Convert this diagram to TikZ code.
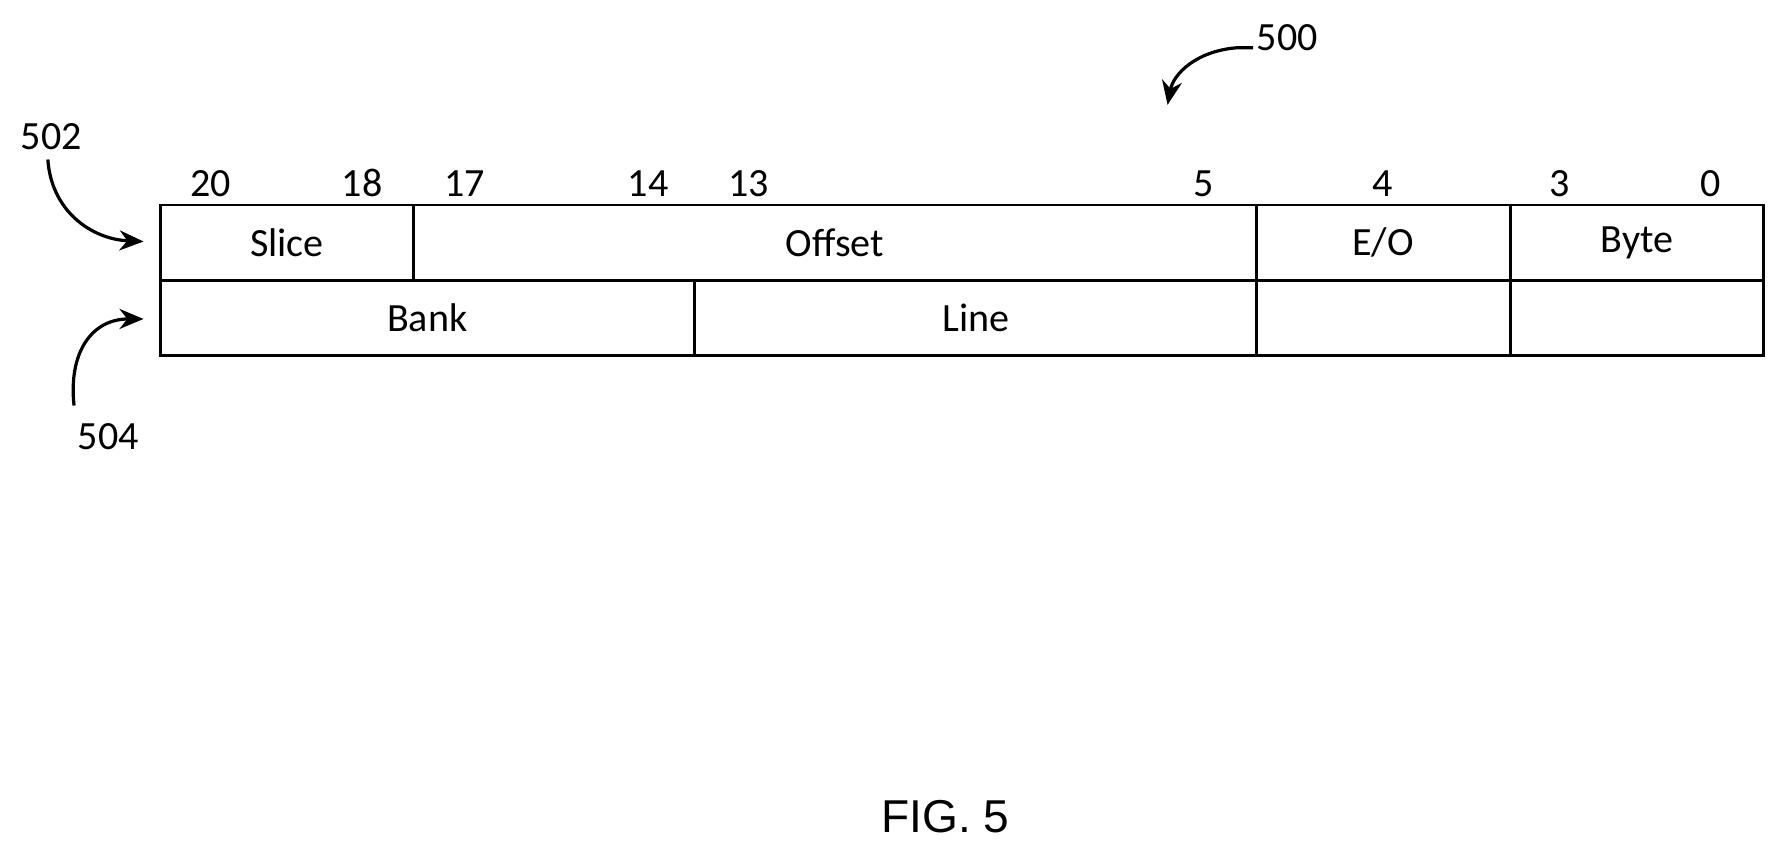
\documentclass[tikz,border=0pt]{standalone}
\usepackage{fontspec}
\setmainfont{Carlito}
\newfontfamily\figfont{Liberation Sans}
\usetikzlibrary{arrows.meta}
\begin{document}
\begin{tikzpicture}[x=0.01cm,y=-0.01cm,line width=0.7pt,
  lbl/.style={font=\fontsize{10}{12}\selectfont,inner sep=0pt},
  cell/.style={draw,line width=0.7pt},
  ref/.style={-{Stealth[length=6pt,width=5pt]},line width=0.8pt}]
\useasboundingbox (0,0) rectangle (1560,745);
% row 502
\draw[cell] (141,180) rectangle (363,246);
\draw[cell] (363,180) rectangle (1103,246);
\draw[cell] (1103,180) rectangle (1326,246);
\draw[cell] (1326,180) rectangle (1548,246);
% row 504
\draw[cell] (141,246) rectangle (610,312);
\draw[cell] (610,246) rectangle (1103,312);
\draw[cell] (1103,246) rectangle (1326,312);
\draw[cell] (1326,246) rectangle (1548,312);
\node[lbl] (slice) at (252,213) {Slice};
\node[lbl] (offset) at (733,213) {Offset};
\node[lbl] (eo) at (1214,213) {E/O};
\node[lbl] (byte) at (1437,213) {Byte};
\node[lbl] (bank) at (375,279) {Bank};
\node[lbl] (line) at (857,279) {Line};
\foreach \x/\t in {185/20,318/18,408/17,569/14,657/13,1057/5,1214/4,1369/3,1502/0}
  \node[lbl] at (\x,161) {\t};
\node[lbl] (n500) at (1130,33) {500};
\node[lbl] (n502) at (45,120) {502};
\node[lbl] (n504) at (95,383) {504};
\coordinate (a500) at (1025,92);
\coordinate (a502) at (126,212);
\coordinate (a504) at (126,280);
\draw[ref] (1100,42) -- (1085,42) .. controls (1050,45) and (1030,65) .. (a500);
\draw[ref] (42,140) .. controls (45,185) and (80,210) .. (a502);
\draw[ref] (65,356) .. controls (60,310) and (80,280) .. (a504);
\node[font=\figfont\fontsize{11.5}{13}\selectfont,inner sep=0pt] (fig) at (830,717) {FIG. 5};
\end{tikzpicture}
\end{document}
